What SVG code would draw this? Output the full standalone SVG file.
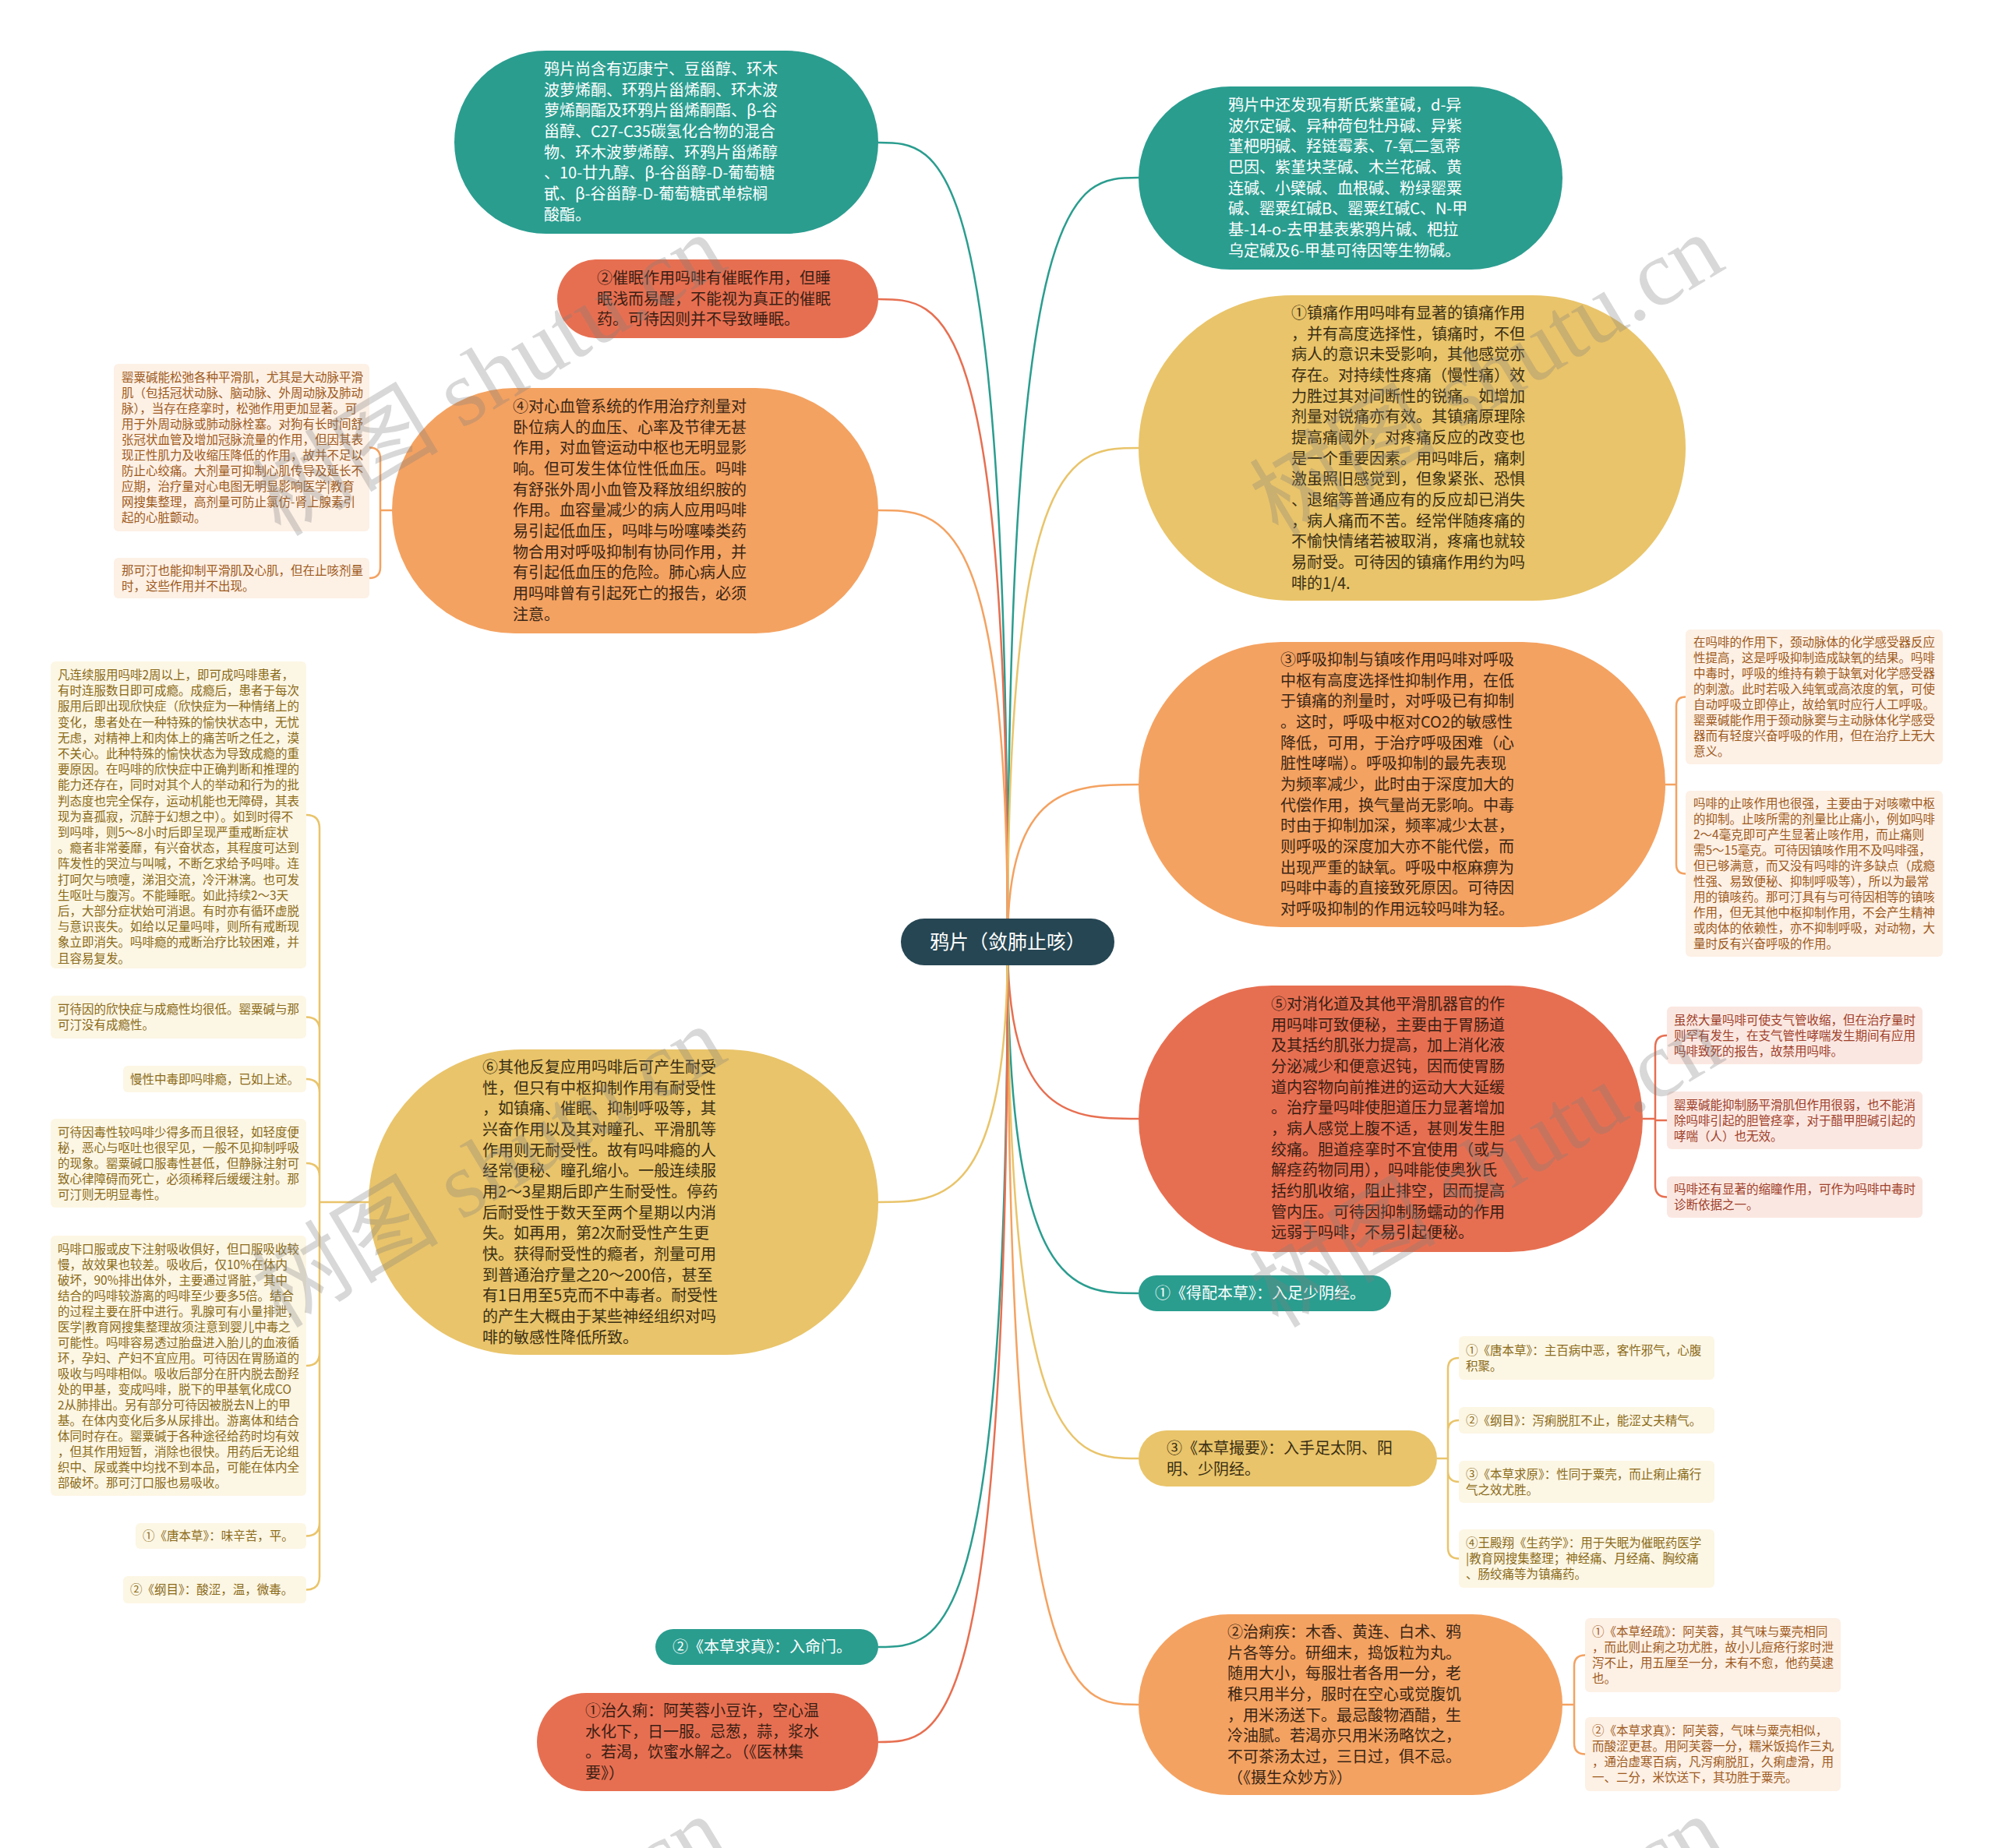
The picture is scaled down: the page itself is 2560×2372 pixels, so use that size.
<svg xmlns="http://www.w3.org/2000/svg" width="2560" height="2372" viewBox="0 0 2560 2372">
<style>
text{font-family:"Noto Sans CJK SC","Noto Sans",sans-serif;}
.m{font-size:20px;}
.s{font-size:15.5px;}
.w{fill:#ffffff;}
.dy{fill:#3a2f14;}
.do{fill:#3a2616;}
.dc{fill:#3a1e14;}
.teal{fill:#2a9d8f;}
.yel{fill:#e9c46a;}
.org{fill:#f4a261;}
.cor{fill:#e76f51;}
.cbo{fill:#fdf0e5;}
.cby{fill:#fcf6e4;}
.cbc{fill:#fbe7e1;}
.cto{fill:#9d5a20;}
.cty{fill:#8a6a18;}
.ctc{fill:#9e402a;}
.lt{fill:none;stroke:#2a9d8f;stroke-width:2.5;}
.ly{fill:none;stroke:#e9c46a;stroke-width:2.5;}
.lo{fill:none;stroke:#f4a261;stroke-width:2.5;}
.lc{fill:none;stroke:#e76f51;stroke-width:2.5;}
.wm{font-family:"Liberation Serif","Noto Sans CJK SC",serif;font-size:120px;fill:#808080;opacity:0.3;}
</style>
<rect width="2560" height="2372" fill="#ffffff"/>
<g id="connectors">
<path class="lt" d="M1293,1209 C1293,183 1210,183 1127,183"/>
<path class="lt" d="M1293,1209 C1293,228 1377,228 1461,228"/>
<path class="lc" d="M1293,1209 C1293,384 1210,384 1127,384"/>
<path class="ly" d="M1293,1209 C1293,575 1377,575 1461,575"/>
<path class="lo" d="M1293,1209 C1293,655 1210,655 1127,655"/>
<path class="lo" d="M1293,1209 C1293,1007 1377,1007 1461,1007"/>
<path class="lc" d="M1293,1209 C1293,1436 1377,1436 1461,1436"/>
<path class="lt" d="M1293,1209 C1293,1660 1377,1660 1461,1660"/>
<path class="ly" d="M1293,1209 C1293,1872 1377,1872 1461,1872"/>
<path class="lo" d="M1293,1209 C1293,2188 1377,2188 1461,2188"/>
<path class="lt" d="M1293,1209 C1293,2114 1210,2114 1127,2114"/>
<path class="lc" d="M1293,1209 C1293,2236 1210,2236 1127,2236"/>
<path class="ly" d="M1293,1209 C1293,1543 1210,1543 1127,1543"/>
<path class="lo" d="M503,655 H488 V588.5 Q488,574.5 474,574.5 M488,655 V728 Q488,742 474,742"/>
<path class="lo" d="M2137,1007 H2151 V906.5 Q2151,894.5 2163,894.5 M2151,1007 V1109.5 Q2151,1121.5 2163,1121.5"/>
<path class="lc" d="M2108,1436 H2124 V1344 Q2124,1329 2139,1329 M2124,1436 V1438 H2139 M2124,1436 V1521.5 Q2124,1536.5 2139,1536.5"/>
<path class="ly" d="M1844,1872 H1858 V1757 Q1858,1743 1872,1743 M1858,1872 V1837 Q1858,1823 1872,1823 M1858,1872 V1888 Q1858,1902 1872,1902 M1858,1872 V1986.5 Q1858,2000.5 1872,2000.5"/>
<path class="lo" d="M2005,2188 H2020 V2138.5 Q2020,2124.5 2034,2124.5 M2020,2188 V2237.5 Q2020,2251.5 2034,2251.5"/>
<path class="ly" d="M473,1543 H410 V1063 Q410,1046 393,1046 M410,1543 V1322.5 Q410,1305.5 393,1305.5 M410,1543 V1402 Q410,1385 393,1385 M410,1543 V1510 Q410,1493 393,1493 M410,1543 V1736 Q410,1753 393,1753 M410,1543 V1954.5 Q410,1971.5 393,1971.5 M410,1543 V2023.5 Q410,2040.5 393,2040.5"/>
</g>
<g id="root">
<rect x="1156" y="1179" width="274" height="60" rx="30" fill="#264653"/>
<text x="1293" y="1218" text-anchor="middle" font-size="25" class="w">鸦片（敛肺止咳）</text>
</g>
<g id="nodeA">
<rect x="583" y="65" width="544" height="235" rx="117.5" class="teal"/>
<text class="m w" x="698" y="96"><tspan x="698">鸦片尚含有迈康宁、豆甾醇、环木</tspan><tspan x="698" dy="26.67">波萝烯酮、环鸦片甾烯酮、环木波</tspan><tspan x="698" dy="26.67">萝烯酮酯及环鸦片甾烯酮酯、β-谷</tspan><tspan x="698" dy="26.67">甾醇、C27-C35碳氢化合物的混合</tspan><tspan x="698" dy="26.67">物、环木波萝烯醇、环鸦片甾烯醇</tspan><tspan x="698" dy="26.67">、10-廿九醇、β-谷甾醇-D-葡萄糖</tspan><tspan x="698" dy="26.67">甙、β-谷甾醇-D-葡萄糖甙单棕榈</tspan><tspan x="698" dy="26.67">酸酯。</tspan></text>
</g>
<g id="nodeB">
<rect x="1461" y="111" width="544" height="235" rx="117.5" class="teal"/>
<text class="m w" x="1576" y="142"><tspan x="1576">鸦片中还发现有斯氏紫堇碱，d-异</tspan><tspan x="1576" dy="26.67">波尔定碱、异种荷包牡丹碱、异紫</tspan><tspan x="1576" dy="26.67">堇杷明碱、羟链霉素、7-氧二氢蒂</tspan><tspan x="1576" dy="26.67">巴因、紫堇块茎碱、木兰花碱、黄</tspan><tspan x="1576" dy="26.67">连碱、小檗碱、血根碱、粉绿罂粟</tspan><tspan x="1576" dy="26.67">碱、罂粟红碱B、罂粟红碱C、N-甲</tspan><tspan x="1576" dy="26.67">基-14-o-去甲基表紫鸦片碱、杷拉</tspan><tspan x="1576" dy="26.67">乌定碱及6-甲基可待因等生物碱。</tspan></text>
</g>
<g id="nodeC">
<rect x="715" y="333" width="412" height="101" rx="50.5" class="cor"/>
<text class="m dc" x="766" y="364"><tspan x="766">②催眠作用吗啡有催眠作用，但睡</tspan><tspan x="766" dy="26.67">眠浅而易醒，不能视为真正的催眠</tspan><tspan x="766" dy="26.67">药。可待因则并不导致睡眠。</tspan></text>
</g>
<g id="nodeD">
<rect x="1461" y="379" width="702" height="392" rx="196" class="yel"/>
<text class="m dy" x="1657" y="409"><tspan x="1657">①镇痛作用吗啡有显著的镇痛作用</tspan><tspan x="1657" dy="26.67">，并有高度选择性，镇痛时，不但</tspan><tspan x="1657" dy="26.67">病人的意识未受影响，其他感觉亦</tspan><tspan x="1657" dy="26.67">存在。对持续性疼痛（慢性痛）效</tspan><tspan x="1657" dy="26.67">力胜过其对间断性的锐痛。如增加</tspan><tspan x="1657" dy="26.67">剂量对锐痛亦有效。其镇痛原理除</tspan><tspan x="1657" dy="26.67">提高痛阈外，对疼痛反应的改变也</tspan><tspan x="1657" dy="26.67">是一个重要因素。用吗啡后，痛刺</tspan><tspan x="1657" dy="26.67">激虽照旧感觉到，但象紧张、恐惧</tspan><tspan x="1657" dy="26.67">、退缩等普通应有的反应却已消失</tspan><tspan x="1657" dy="26.67">，病人痛而不苦。经常伴随疼痛的</tspan><tspan x="1657" dy="26.67">不愉快情绪若被取消，疼痛也就较</tspan><tspan x="1657" dy="26.67">易耐受。可待因的镇痛作用约为吗</tspan><tspan x="1657" dy="26.67">啡的1/4.</tspan></text>
</g>
<g id="nodeE">
<rect x="503" y="498" width="624" height="315" rx="157.5" class="org"/>
<text class="m do" x="658" y="529"><tspan x="658">④对心血管系统的作用治疗剂量对</tspan><tspan x="658" dy="26.67">卧位病人的血压、心率及节律无甚</tspan><tspan x="658" dy="26.67">作用，对血管运动中枢也无明显影</tspan><tspan x="658" dy="26.67">响。但可发生体位性低血压。吗啡</tspan><tspan x="658" dy="26.67">有舒张外周小血管及释放组织胺的</tspan><tspan x="658" dy="26.67">作用。血容量减少的病人应用吗啡</tspan><tspan x="658" dy="26.67">易引起低血压，吗啡与吩噻嗪类药</tspan><tspan x="658" dy="26.67">物合用对呼吸抑制有协同作用，并</tspan><tspan x="658" dy="26.67">有引起低血压的危险。肺心病人应</tspan><tspan x="658" dy="26.67">用吗啡曾有引起死亡的报告，必须</tspan><tspan x="658" dy="26.67">注意。</tspan></text>
</g>
<g id="nodeE1">
<rect x="146" y="467" width="328" height="215" rx="6" class="cbo"/>
<text class="s cto" x="156" y="490"><tspan x="156">罂粟碱能松弛各种平滑肌，尤其是大动脉平滑</tspan><tspan x="156" dy="20">肌（包括冠状动脉、脑动脉、外周动脉及肺动</tspan><tspan x="156" dy="20">脉），当存在痉挛时，松弛作用更加显著。可</tspan><tspan x="156" dy="20">用于外周动脉或肺动脉栓塞。对狗有长时间舒</tspan><tspan x="156" dy="20">张冠状血管及增加冠脉流量的作用，但因其表</tspan><tspan x="156" dy="20">现正性肌力及收缩压降低的作用，故并不足以</tspan><tspan x="156" dy="20">防止心绞痛。大剂量可抑制心肌传导及延长不</tspan><tspan x="156" dy="20">应期，治疗量对心电图无明显影响医学|教育</tspan><tspan x="156" dy="20">网搜集整理，高剂量可防止氯仿-肾上腺素引</tspan><tspan x="156" dy="20">起的心脏颤动。</tspan></text>
</g>
<g id="nodeE2">
<rect x="146" y="716" width="328" height="52" rx="6" class="cbo"/>
<text class="s cto" x="156" y="737.5"><tspan x="156">那可汀也能抑制平滑肌及心肌，但在止咳剂量</tspan><tspan x="156" dy="20">时，这些作用并不出现。</tspan></text>
</g>
<g id="nodeF">
<rect x="1461" y="824" width="676" height="366" rx="183" class="org"/>
<text class="m do" x="1643" y="854"><tspan x="1643">③呼吸抑制与镇咳作用吗啡对呼吸</tspan><tspan x="1643" dy="26.67">中枢有高度选择性抑制作用，在低</tspan><tspan x="1643" dy="26.67">于镇痛的剂量时，对呼吸已有抑制</tspan><tspan x="1643" dy="26.67">。这时，呼吸中枢对CO2的敏感性</tspan><tspan x="1643" dy="26.67">降低，可用，于治疗呼吸困难（心</tspan><tspan x="1643" dy="26.67">脏性哮喘）。呼吸抑制的最先表现</tspan><tspan x="1643" dy="26.67">为频率减少，此时由于深度加大的</tspan><tspan x="1643" dy="26.67">代偿作用，换气量尚无影响。中毒</tspan><tspan x="1643" dy="26.67">时由于抑制加深，频率减少太甚，</tspan><tspan x="1643" dy="26.67">则呼吸的深度加大亦不能代偿，而</tspan><tspan x="1643" dy="26.67">出现严重的缺氧。呼吸中枢麻痹为</tspan><tspan x="1643" dy="26.67">吗啡中毒的直接致死原因。可待因</tspan><tspan x="1643" dy="26.67">对呼吸抑制的作用远较吗啡为轻。</tspan></text>
</g>
<g id="nodeF1">
<rect x="2163" y="808" width="330" height="173" rx="6" class="cbo"/>
<text class="s cto" x="2173" y="830"><tspan x="2173">在吗啡的作用下，颈动脉体的化学感受器反应</tspan><tspan x="2173" dy="20">性提高，这是呼吸抑制造成缺氧的结果。吗啡</tspan><tspan x="2173" dy="20">中毒时，呼吸的维持有赖于缺氧对化学感受器</tspan><tspan x="2173" dy="20">的刺激。此时若吸入纯氧或高浓度的氧，可使</tspan><tspan x="2173" dy="20">自动呼吸立即停止，故给氧时应行人工呼吸。</tspan><tspan x="2173" dy="20">罂粟碱能作用于颈动脉窦与主动脉体化学感受</tspan><tspan x="2173" dy="20">器而有轻度兴奋呼吸的作用，但在治疗上无大</tspan><tspan x="2173" dy="20">意义。</tspan></text>
</g>
<g id="nodeF2">
<rect x="2163" y="1015" width="330" height="213" rx="6" class="cbo"/>
<text class="s cto" x="2173" y="1037"><tspan x="2173">吗啡的止咳作用也很强，主要由于对咳嗽中枢</tspan><tspan x="2173" dy="20">的抑制。止咳所需的剂量比止痛小，例如吗啡</tspan><tspan x="2173" dy="20">2～4毫克即可产生显著止咳作用，而止痛则</tspan><tspan x="2173" dy="20">需5～15毫克。可待因镇咳作用不及吗啡强，</tspan><tspan x="2173" dy="20">但已够满意，而又没有吗啡的许多缺点（成瘾</tspan><tspan x="2173" dy="20">性强、易致便秘、抑制呼吸等），所以为最常</tspan><tspan x="2173" dy="20">用的镇咳药。那可汀具有与可待因相等的镇咳</tspan><tspan x="2173" dy="20">作用，但无其他中枢抑制作用，不会产生精神</tspan><tspan x="2173" dy="20">或肉体的依赖性，亦不抑制呼吸，对动物，大</tspan><tspan x="2173" dy="20">量时反有兴奋呼吸的作用。</tspan></text>
</g>
<g id="nodeG">
<rect x="1461" y="1265" width="647" height="342" rx="171" class="cor"/>
<text class="m dc" x="1631" y="1296"><tspan x="1631">⑤对消化道及其他平滑肌器官的作</tspan><tspan x="1631" dy="26.67">用吗啡可致便秘，主要由于胃肠道</tspan><tspan x="1631" dy="26.67">及其括约肌张力提高，加上消化液</tspan><tspan x="1631" dy="26.67">分泌减少和便意迟钝，因而使胃肠</tspan><tspan x="1631" dy="26.67">道内容物向前推进的运动大大延缓</tspan><tspan x="1631" dy="26.67">。治疗量吗啡使胆道压力显著增加</tspan><tspan x="1631" dy="26.67">，病人感觉上腹不适，甚则发生胆</tspan><tspan x="1631" dy="26.67">绞痛。胆道痉挛时不宜使用（或与</tspan><tspan x="1631" dy="26.67">解痉药物同用），吗啡能使奥狄氏</tspan><tspan x="1631" dy="26.67">括约肌收缩，阻止排空，因而提高</tspan><tspan x="1631" dy="26.67">管内压。可待因抑制肠蠕动的作用</tspan><tspan x="1631" dy="26.67">远弱于吗啡，不易引起便秘。</tspan></text>
</g>
<g id="nodeG1">
<rect x="2139" y="1292" width="328" height="74" rx="6" class="cbc"/>
<text class="s ctc" x="2148" y="1314.5"><tspan x="2148">虽然大量吗啡可使支气管收缩，但在治疗量时</tspan><tspan x="2148" dy="20">则罕有发生，在支气管性哮喘发生期间有应用</tspan><tspan x="2148" dy="20">吗啡致死的报告，故禁用吗啡。</tspan></text>
</g>
<g id="nodeG2">
<rect x="2139" y="1401" width="328" height="74" rx="6" class="cbc"/>
<text class="s ctc" x="2148" y="1423.5"><tspan x="2148">罂粟碱能抑制肠平滑肌但作用很弱，也不能消</tspan><tspan x="2148" dy="20">除吗啡引起的胆管痉挛，对于醋甲胆碱引起的</tspan><tspan x="2148" dy="20">哮喘（人）也无效。</tspan></text>
</g>
<g id="nodeG3">
<rect x="2139" y="1510" width="328" height="53" rx="6" class="cbc"/>
<text class="s ctc" x="2148" y="1532"><tspan x="2148">吗啡还有显著的缩瞳作用，可作为吗啡中毒时</tspan><tspan x="2148" dy="20">诊断依据之一。</tspan></text>
</g>
<g id="nodeH">
<rect x="1461" y="1637" width="324" height="46" rx="23" class="teal"/>
<text class="m w" x="1482" y="1667">①《得配本草》：入足少阴经。</text>
</g>
<g id="nodeI">
<rect x="1461" y="1836" width="383" height="72" rx="36" class="yel"/>
<text class="m dy" x="1497" y="1866"><tspan x="1497">③《本草撮要》：入手足太阴、阳</tspan><tspan x="1497" dy="26.67">明、少阴经。</tspan></text>
</g>
<g id="nodeI1">
<rect x="1872" y="1715" width="328" height="56" rx="6" class="cby"/>
<text class="s cty" x="1881" y="1738.5"><tspan x="1881">①《唐本草》：主百病中恶，客忤邪气，心腹</tspan><tspan x="1881" dy="20">积聚。</tspan></text>
</g>
<g id="nodeI2">
<rect x="1872" y="1806" width="328" height="34" rx="6" class="cby"/>
<text class="s cty" x="1881" y="1828.5">②《纲目》：泻痢脱肛不止，能涩丈夫精气。</text>
</g>
<g id="nodeI3">
<rect x="1872" y="1875" width="328" height="54" rx="6" class="cby"/>
<text class="s cty" x="1881" y="1897.5"><tspan x="1881">③《本草求原》：性同于粟壳，而止痢止痛行</tspan><tspan x="1881" dy="20">气之效尤胜。</tspan></text>
</g>
<g id="nodeI4">
<rect x="1872" y="1963" width="328" height="75" rx="6" class="cby"/>
<text class="s cty" x="1881" y="1986"><tspan x="1881">④王殿翔《生药学》：用于失眠为催眠药医学</tspan><tspan x="1881" dy="20">|教育网搜集整理；神经痛、月经痛、胸绞痛</tspan><tspan x="1881" dy="20">、肠绞痛等为镇痛药。</tspan></text>
</g>
<g id="nodeJ">
<rect x="1461" y="2072" width="544" height="232" rx="116" class="org"/>
<text class="m do" x="1575" y="2102"><tspan x="1575">②治痢疾：木香、黄连、白术、鸦</tspan><tspan x="1575" dy="26.67">片各等分。研细末，捣饭粒为丸。</tspan><tspan x="1575" dy="26.67">随用大小，每服壮者各用一分，老</tspan><tspan x="1575" dy="26.67">稚只用半分，服时在空心或觉腹饥</tspan><tspan x="1575" dy="26.67">，用米汤送下。最忌酸物酒醋，生</tspan><tspan x="1575" dy="26.67">冷油腻。若渴亦只用米汤略饮之，</tspan><tspan x="1575" dy="26.67">不可茶汤太过，三日过，俱不忌。</tspan><tspan x="1575" dy="26.67">（《摄生众妙方》）</tspan></text>
</g>
<g id="nodeJ1">
<rect x="2034" y="2077" width="328" height="95" rx="6" class="cbo"/>
<text class="s cto" x="2043" y="2100"><tspan x="2043">①《本草经疏》：阿芙蓉，其气味与粟壳相同</tspan><tspan x="2043" dy="20">，而此则止痢之功尤胜，故小儿痘疮行浆时泄</tspan><tspan x="2043" dy="20">泻不止，用五厘至一分，未有不愈，他药莫逮</tspan><tspan x="2043" dy="20">也。</tspan></text>
</g>
<g id="nodeJ2">
<rect x="2034" y="2204" width="328" height="95" rx="6" class="cbo"/>
<text class="s cto" x="2043" y="2227"><tspan x="2043">②《本草求真》：阿芙蓉，气味与粟壳相似，</tspan><tspan x="2043" dy="20">而酸涩更甚。用阿芙蓉一分，糯米饭捣作三丸</tspan><tspan x="2043" dy="20">，通治虚寒百病，凡泻痢脱肛，久痢虚滑，用</tspan><tspan x="2043" dy="20">一、二分，米饮送下，其功胜于粟壳。</tspan></text>
</g>
<g id="nodeK">
<rect x="841" y="2091" width="286" height="46" rx="23" class="teal"/>
<text class="m w" x="863" y="2121">②《本草求真》：入命门。</text>
</g>
<g id="nodeL">
<rect x="689" y="2173" width="438" height="126" rx="63" class="cor"/>
<text class="m dc" x="751" y="2203"><tspan x="751">①治久痢：阿芙蓉小豆许，空心温</tspan><tspan x="751" dy="26.67">水化下，日一服。忌葱，蒜，浆水</tspan><tspan x="751" dy="26.67">。若渴，饮蜜水解之。（《医林集</tspan><tspan x="751" dy="26.67">要》）</tspan></text>
</g>
<g id="nodeM">
<rect x="473" y="1347" width="654" height="392" rx="196" class="yel"/>
<text class="m dy" x="619" y="1377"><tspan x="619">⑥其他反复应用吗啡后可产生耐受</tspan><tspan x="619" dy="26.67">性，但只有中枢抑制作用有耐受性</tspan><tspan x="619" dy="26.67">，如镇痛、催眠、抑制呼吸等，其</tspan><tspan x="619" dy="26.67">兴奋作用以及其对瞳孔、平滑肌等</tspan><tspan x="619" dy="26.67">作用则无耐受性。故有吗啡瘾的人</tspan><tspan x="619" dy="26.67">经常便秘、瞳孔缩小。一般连续服</tspan><tspan x="619" dy="26.67">用2～3星期后即产生耐受性。停药</tspan><tspan x="619" dy="26.67">后耐受性于数天至两个星期以内消</tspan><tspan x="619" dy="26.67">失。如再用，第2次耐受性产生更</tspan><tspan x="619" dy="26.67">快。获得耐受性的瘾者，剂量可用</tspan><tspan x="619" dy="26.67">到普通治疗量之20～200倍，甚至</tspan><tspan x="619" dy="26.67">有1日用至5克而不中毒者。耐受性</tspan><tspan x="619" dy="26.67">的产生大概由于某些神经组织对吗</tspan><tspan x="619" dy="26.67">啡的敏感性降低所致。</tspan></text>
</g>
<g id="nodeM1">
<rect x="65" y="849" width="328" height="394" rx="6" class="cby"/>
<text class="s cty" x="74" y="872"><tspan x="74">凡连续服用吗啡2周以上，即可成吗啡患者，</tspan><tspan x="74" dy="20.2">有时连服数日即可成瘾。成瘾后，患者于每次</tspan><tspan x="74" dy="20.2">服用后即出现欣快症（欣快症为一种情绪上的</tspan><tspan x="74" dy="20.2">变化，患者处在一种特殊的愉快状态中，无忧</tspan><tspan x="74" dy="20.2">无虑，对精神上和肉体上的痛苦听之任之，漠</tspan><tspan x="74" dy="20.2">不关心。此种特殊的愉快状态为导致成瘾的重</tspan><tspan x="74" dy="20.2">要原因。在吗啡的欣快症中正确判断和推理的</tspan><tspan x="74" dy="20.2">能力还存在，同时对其个人的举动和行为的批</tspan><tspan x="74" dy="20.2">判态度也完全保存，运动机能也无障碍，其表</tspan><tspan x="74" dy="20.2">现为喜孤寂，沉醉于幻想之中）。如到时得不</tspan><tspan x="74" dy="20.2">到吗啡，则5～8小时后即呈现严重戒断症状</tspan><tspan x="74" dy="20.2">。瘾者非常萎靡，有兴奋状态，其程度可达到</tspan><tspan x="74" dy="20.2">阵发性的哭泣与叫喊，不断乞求给予吗啡。连</tspan><tspan x="74" dy="20.2">打呵欠与喷嚏，涕泪交流，冷汗淋漓。也可发</tspan><tspan x="74" dy="20.2">生呕吐与腹泻。不能睡眠。如此持续2～3天</tspan><tspan x="74" dy="20.2">后，大部分症状始可消退。有时亦有循环虚脱</tspan><tspan x="74" dy="20.2">与意识丧失。如给以足量吗啡，则所有戒断现</tspan><tspan x="74" dy="20.2">象立即消失。吗啡瘾的戒断治疗比较困难，并</tspan><tspan x="74" dy="20.2">且容易复发。</tspan></text>
</g>
<g id="nodeM2">
<rect x="65" y="1278" width="328" height="55" rx="6" class="cby"/>
<text class="s cty" x="74" y="1301"><tspan x="74">可待因的欣快症与成瘾性均很低。罂粟碱与那</tspan><tspan x="74" dy="20">可汀没有成瘾性。</tspan></text>
</g>
<g id="nodeM3">
<rect x="158" y="1368" width="235" height="34" rx="6" class="cby"/>
<text class="s cty" x="167" y="1390.5">慢性中毒即吗啡瘾，已如上述。</text>
</g>
<g id="nodeM4">
<rect x="65" y="1436" width="328" height="114" rx="6" class="cby"/>
<text class="s cty" x="74" y="1458.5"><tspan x="74">可待因毒性较吗啡少得多而且很轻，如轻度便</tspan><tspan x="74" dy="20">秘，恶心与呕吐也很罕见，一般不见抑制呼吸</tspan><tspan x="74" dy="20">的现象。罂粟碱口服毒性甚低，但静脉注射可</tspan><tspan x="74" dy="20">致心律障碍而死亡，必须稀释后缓缓注射。那</tspan><tspan x="74" dy="20">可汀则无明显毒性。</tspan></text>
</g>
<g id="nodeM5">
<rect x="65" y="1586" width="328" height="334" rx="6" class="cby"/>
<text class="s cty" x="74" y="1608.5"><tspan x="74">吗啡口服或皮下注射吸收俱好，但口服吸收较</tspan><tspan x="74" dy="20">慢，故效果也较差。吸收后，仅10%在体内</tspan><tspan x="74" dy="20">破坏，90%排出体外，主要通过肾脏，其中</tspan><tspan x="74" dy="20">结合的吗啡较游离的吗啡至少要多5倍。结合</tspan><tspan x="74" dy="20">的过程主要在肝中进行。乳腺可有小量排泄，</tspan><tspan x="74" dy="20">医学|教育网搜集整理故须注意到婴儿中毒之</tspan><tspan x="74" dy="20">可能性。吗啡容易透过胎盘进入胎儿的血液循</tspan><tspan x="74" dy="20">环，孕妇、产妇不宜应用。可待因在胃肠道的</tspan><tspan x="74" dy="20">吸收与吗啡相似。吸收后部分在肝内脱去酚羟</tspan><tspan x="74" dy="20">处的甲基，变成吗啡，脱下的甲基氧化成CO</tspan><tspan x="74" dy="20">2从肺排出。另有部分可待因被脱去N上的甲</tspan><tspan x="74" dy="20">基。在体内变化后多从尿排出。游离体和结合</tspan><tspan x="74" dy="20">体同时存在。罂粟碱于各种途径给药时均有效</tspan><tspan x="74" dy="20">，但其作用短暂，消除也很快。用药后无论组</tspan><tspan x="74" dy="20">织中、尿或粪中均找不到本品，可能在体内全</tspan><tspan x="74" dy="20">部破坏。那可汀口服也易吸收。</tspan></text>
</g>
<g id="nodeM6">
<rect x="174" y="1955" width="219" height="33" rx="6" class="cby"/>
<text class="s cty" x="183" y="1977">①《唐本草》：味辛苦，平。</text>
</g>
<g id="nodeM7">
<rect x="158" y="2023" width="235" height="35" rx="6" class="cby"/>
<text class="s cty" x="167" y="2046">②《纲目》：酸涩，温，微毒。</text>
</g>
<g id="watermarks">
<text class="wm" transform="translate(360,690) rotate(-31)">树图 shutu.cn</text>
<text class="wm" transform="translate(1640,690) rotate(-31)">树图 shutu.cn</text>
<text class="wm" transform="translate(360,1706) rotate(-31)">树图 shutu.cn</text>
<text class="wm" transform="translate(1640,1706) rotate(-31)">树图 shutu.cn</text>
<text class="wm" transform="translate(360,2720) rotate(-31)">树图 shutu.cn</text>
<text class="wm" transform="translate(1640,2720) rotate(-31)">树图 shutu.cn</text>
</g>
</svg>
